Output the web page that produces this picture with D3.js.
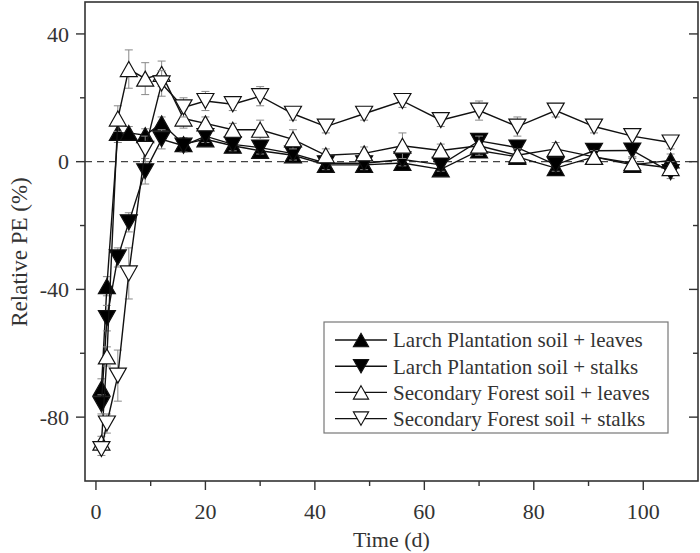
<!DOCTYPE html>
<html><head><meta charset="utf-8">
<script src="https://cdn.jsdelivr.net/npm/d3@7/dist/d3.min.js"></script>
<style>body{margin:0;background:#fff}svg{display:block}text{font-family:"Liberation Serif","Times New Roman",serif;fill:#333}</style>
</head><body><svg id="c" width="700" height="553"></svg>
<script>
const days = [1,2,4,6,9,12,16,20,25,30,36,42,49,56,63,70,77,84,91,98,105];
const lpLeaves = [-71,-39,9,9,8.3,12,5.5,7,5,3.4,2,-1,-1,-0.4,-2.4,3.5,1.5,-2,1.5,-1,0.4];
const lpLeavesErr = [3,3,3,2,2,2,2,2,2,2,2,2,2,2,2,2,2,2,2,2,2];
const lpStalks = [-76,-49,-30,-19,-3,7,5,8,5.4,4.4,2.5,-0.5,-0.5,0.7,-1,6.5,4.4,-1,3.4,3.5,-3.3];
const lpStalksErr = [3,4,3,3,4,3,2,2,2,2,2,2,2,2,2,2,2,2,2,2,2];
const sfLeaves = [-88,-61,13.5,29,26,27.5,13.5,12,10,10,7,2,2.6,5,3.5,5,2,4,1.5,-0.5,-2];
const sfLeavesErr = [2,3,4,6,5,4,3,2,2,3,3,2,2,4,2,3,2,2,2,2,2];
const sfStalks = [-90,-82,-67,-35,4,24.5,17,19,18,20.5,15,11,15,19,13,16,11,16,11,8,6];
const sfStalksErr = [2,3,8,8,4,4,3,3,2,3,2,2,2,2,2,3,3,2,2,2,2];
const seriesNames = ["Larch Plantation soil + leaves","Larch Plantation soil + stalks","Secondary Forest soil + leaves","Secondary Forest soil + stalks"];
const xTicks = [0,20,40,60,80,100];
const xMinor = [10,30,50,70,90];
const yTicks = [40,0,-40,-80];
const yMinor = [20,-20,-60];

const series = [
  {name:seriesNames[0], v:lpLeaves, e:lpLeavesErr, up:true, filled:true},
  {name:seriesNames[1], v:lpStalks, e:lpStalksErr, up:false, filled:true},
  {name:seriesNames[2], v:sfLeaves, e:sfLeavesErr, up:true, filled:false},
  {name:seriesNames[3], v:sfStalks, e:sfStalksErr, up:false, filled:false}
];

const svg = d3.select("#c");
const L=85, R=698, T=2, B=481;
const x = d3.scaleLinear().domain([-2,110]).range([L,R]);
const y = d3.scaleLinear().domain([-100,50]).range([B,T]);
const ax = "#333";

function tri(up){
  const w=8.5,h=7.5;
  return up ? `M0,${-h}L${w},${h}L${-w},${h}Z` : `M0,${h}L${w},${-h}L${-w},${-h}Z`;
}

svg.append("line").attr("x1",L).attr("x2",R).attr("y1",y(0)).attr("y2",y(0))
  .attr("stroke","#444").attr("stroke-width",1.2).attr("stroke-dasharray","7,5");

series.forEach(s=>{
  const g = svg.append("g");
  const pts = days.map((d,i)=>({d, v:s.v[i], e:s.e[i]}));
  pts.forEach(p=>{
    const eg = g.append("g").attr("stroke","#888").attr("stroke-width",1);
    eg.append("line").attr("x1",x(p.d)).attr("x2",x(p.d)).attr("y1",y(p.v+p.e)).attr("y2",y(p.v-p.e));
    eg.append("line").attr("x1",x(p.d)-4).attr("x2",x(p.d)+4).attr("y1",y(p.v+p.e)).attr("y2",y(p.v+p.e));
    eg.append("line").attr("x1",x(p.d)-4).attr("x2",x(p.d)+4).attr("y1",y(p.v-p.e)).attr("y2",y(p.v-p.e));
  });
  g.append("path").datum(pts)
    .attr("d", d3.line().x(p=>x(p.d)).y(p=>y(p.v)))
    .attr("fill","none").attr("stroke","#111").attr("stroke-width",1.4);
  g.selectAll("path.m").data(pts).join("path").attr("class","m")
    .attr("transform",p=>`translate(${x(p.d)},${y(p.v)})`)
    .attr("d",tri(s.up))
    .attr("fill",s.filled?"#000":"#fff").attr("stroke","#111").attr("stroke-width",1.2);
});

svg.append("rect").attr("x",L).attr("y",T).attr("width",R-L).attr("height",B-T)
  .attr("fill","none").attr("stroke",ax).attr("stroke-width",1.6);

const axG = svg.append("g").attr("stroke",ax).attr("stroke-width",1.4);
xTicks.forEach(t=>axG.append("line").attr("x1",x(t)).attr("x2",x(t)).attr("y1",B).attr("y2",B+9));
xMinor.forEach(t=>axG.append("line").attr("x1",x(t)).attr("x2",x(t)).attr("y1",B).attr("y2",B+5));
yTicks.forEach(t=>{
  axG.append("line").attr("x1",L-9).attr("x2",L).attr("y1",y(t)).attr("y2",y(t));
  axG.append("line").attr("x1",R-9).attr("x2",R).attr("y1",y(t)).attr("y2",y(t));
});
yMinor.forEach(t=>{
  axG.append("line").attr("x1",L-5).attr("x2",L).attr("y1",y(t)).attr("y2",y(t));
  axG.append("line").attr("x1",R-5).attr("x2",R).attr("y1",y(t)).attr("y2",y(t));
});
xTicks.forEach(t=>svg.append("text").attr("x",x(t)).attr("y",519).attr("text-anchor","middle")
  .attr("font-size",22).text(t));
yTicks.forEach(t=>svg.append("text").attr("x",69).attr("y",y(t)).attr("dy","0.35em").attr("text-anchor","end")
  .attr("font-size",22).text(t));

svg.append("text").attr("x",(L+R)/2).attr("y",547).attr("text-anchor","middle").attr("font-size",22).text("Time (d)");
svg.append("text").attr("transform",`translate(27,252) rotate(-90)`).attr("text-anchor","middle")
  .attr("font-size",23).text("Relative PE (%)");

const lg = svg.append("g");
lg.append("rect").attr("x",324).attr("y",322).attr("width",344).attr("height",111)
  .attr("fill","#fff").attr("stroke","#777").attr("stroke-width",1.2);
series.forEach((s,i)=>{
  const cy = 340 + i*26.2;
  lg.append("line").attr("x1",335).attr("x2",387).attr("y1",cy).attr("y2",cy).attr("stroke","#111").attr("stroke-width",1.4);
  lg.append("path").attr("transform",`translate(361,${cy}) scale(0.9)`).attr("d",tri(s.up))
    .attr("fill",s.filled?"#000":"#fff").attr("stroke","#111").attr("stroke-width",1.2);
  lg.append("text").attr("x",393).attr("y",cy).attr("dy","0.35em").attr("font-size",21).text(s.name);
});
</script></body></html>
